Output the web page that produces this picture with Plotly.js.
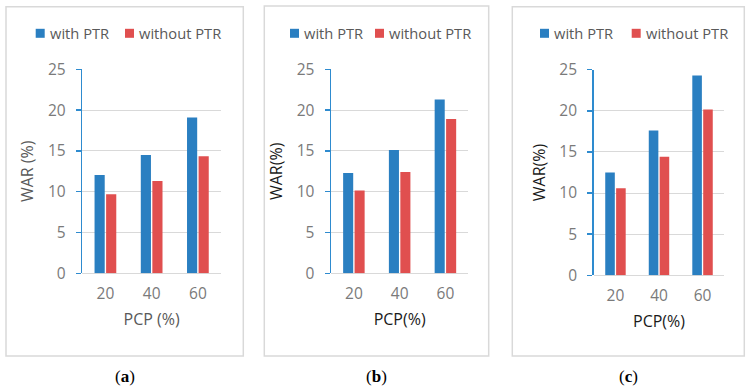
<!DOCTYPE html>
<html>
<head>
<meta charset="utf-8">
<script src="https://cdn.plot.ly/plotly-3.0.1.min.js"></script>
<style>
  html, body { margin: 0; padding: 0; background: #ffffff; }
  #chart { width: 751px; height: 389px; }
</style>
</head>
<body>
<div id="chart"></div>
<script>
// PCP levels on the x axis
const categories = ['20', '40', '60'];
const seriesNames = ['with PTR', 'without PTR'];

// WAR (%) per panel
const withPTR_a = [12.05, 14.5, 19.1];
const withoutPTR_a = [9.7, 11.3, 14.35];
const withPTR_b = [12.3, 15.1, 21.3];
const withoutPTR_b = [10.15, 12.4, 18.9];
const withPTR_c = [12.5, 17.6, 24.3];
const withoutPTR_c = [10.6, 14.4, 20.15];

const yTickVals = [0, 5, 10, 15, 20, 25];
const panelLabels = ['a', 'b', 'c'];
const xTitles = ['PCP (%)', 'PCP(%)', 'PCP(%)'];
const yTitles = ['WAR (%)', 'WAR(%)', 'WAR(%)'];

const W = 751, H = 389;
const BLUE = '#2A7FC1';
const RED = '#E04F4F';
const AXIS_BLUE = '#2E8BCF';
const GRID = '#D9D9D9';
const FONT = 'Open Sans, sans-serif';

const px = v => v / W;
const py = v => 1 - v / H;

// panel geometry in pixels: frame box, plot area, legend
const panels = [
  { box: [6, 6.7, 243.3, 356], plotX: [82.3, 221], plotY: [273.3, 69.3],
    leg: [35.7, 125], titleColor: '#595959',
    withV: withPTR_a, withoutV: withoutPTR_a },
  { box: [264.3, 6, 488.7, 356], plotX: [331, 468.3], plotY: [273.3, 69.3],
    leg: [290, 375], titleColor: '#1a1a1a',
    withV: withPTR_b, withoutV: withoutPTR_b },
  { box: [512.3, 6.7, 744.3, 356], plotX: [593.7, 724.3], plotY: [275.3, 69.7],
    leg: [540, 631.7], titleColor: '#1a1a1a',
    withV: withPTR_c, withoutV: withoutPTR_c }
];

const traces = [];
const layout = {
  width: W, height: H,
  margin: { l: 0, r: 0, t: 0, b: 0 },
  paper_bgcolor: '#ffffff',
  plot_bgcolor: 'rgba(0,0,0,0)',
  showlegend: false,
  barmode: 'group',
  bargap: 0.5,
  bargroupgap: 0.12,
  font: { family: FONT, size: 15, color: '#595959' },
  shapes: [],
  annotations: []
};

panels.forEach((p, i) => {
  const sfx = i === 0 ? '' : String(i + 1);
  const xa = 'x' + sfx, ya = 'y' + sfx;

  traces.push({
    type: 'bar', name: seriesNames[0], x: categories, y: p.withV,
    xaxis: xa, yaxis: ya, marker: { color: BLUE }, hoverinfo: 'x+y+name'
  });
  traces.push({
    type: 'bar', name: seriesNames[1], x: categories, y: p.withoutV,
    xaxis: xa, yaxis: ya, marker: { color: RED }, hoverinfo: 'x+y+name'
  });

  layout['xaxis' + sfx] = {
    domain: [px(p.plotX[0]), px(p.plotX[1])],
    anchor: ya,
    type: 'category',
    showgrid: false,
    zeroline: false,
    showline: false,
    ticks: '',
    ticklabelstandoff: 9,
    tickfont: { family: FONT, size: 15.5, color: '#7a7a7a' },
    title: { text: xTitles[i], standoff: 11,
             font: { family: FONT, size: 16, color: p.titleColor } },
    fixedrange: true
  };
  layout['yaxis' + sfx] = {
    domain: [py(p.plotY[0]), py(p.plotY[1])],
    anchor: xa,
    range: [0, 25],
    tickvals: yTickVals,
    ticktext: yTickVals.map(String),
    showgrid: true,
    gridcolor: GRID,
    gridwidth: 1,
    zeroline: true,
    zerolinecolor: GRID,
    zerolinewidth: 1,
    showline: true,
    linecolor: AXIS_BLUE,
    linewidth: 1.5,
    ticks: 'outside',
    ticklen: 5,
    tickwidth: 1.5,
    tickcolor: AXIS_BLUE,
    ticklabelstandoff: 7,
    tickfont: { family: FONT, size: 15.5, color: '#7a7a7a' },
    title: { text: yTitles[i], standoff: 10,
             font: { family: FONT, size: 16, color: p.titleColor } },
    fixedrange: true
  };

  // frame around the panel
  layout.shapes.push({
    type: 'rect', xref: 'paper', yref: 'paper', layer: 'below',
    x0: px(p.box[0]), x1: px(p.box[2]), y0: py(p.box[3]), y1: py(p.box[1]),
    line: { color: '#D9D9D9', width: 1.5 }, fillcolor: 'rgba(0,0,0,0)'
  });

  // legend: square swatch + label for each series
  const legY = 33.3, sq = 9;
  [BLUE, RED].forEach((c, k) => {
    const x0 = p.leg[k];
    layout.shapes.push({
      type: 'rect', xref: 'paper', yref: 'paper',
      x0: px(x0), x1: px(x0 + sq), y0: py(legY + sq / 2), y1: py(legY - sq / 2),
      line: { width: 0 }, fillcolor: c
    });
    layout.annotations.push({
      xref: 'paper', yref: 'paper', x: px(x0 + sq + 3), y: py(legY),
      xanchor: 'left', yanchor: 'middle', showarrow: false,
      text: seriesNames[k],
      font: { family: FONT, size: 14.7, color: '#595959' }
    });
  });

  // panel caption below the frame
  layout.annotations.push({
    xref: 'paper', yref: 'paper',
    x: px((p.box[0] + p.box[2]) / 2), y: py(376),
    xanchor: 'center', yanchor: 'middle', showarrow: false,
    text: '(<b>' + panelLabels[i] + '</b>)',
    font: { family: 'Liberation Serif, Times New Roman, serif', size: 17, color: '#000000' }
  });
});

Plotly.newPlot('chart', traces, layout, { staticPlot: true, displayModeBar: false });
</script>
</body>
</html>
